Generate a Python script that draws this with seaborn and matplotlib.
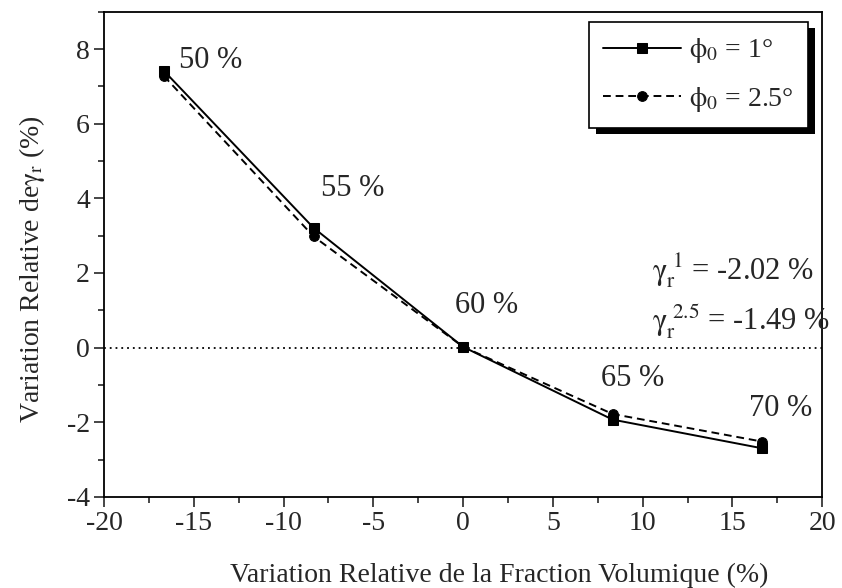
import numpy as np
import pandas as pd
import matplotlib
matplotlib.use("Agg")
import matplotlib.pyplot as plt
from matplotlib.patches import Rectangle
from matplotlib.ticker import MultipleLocator
import seaborn as sns

# Relative variation of the volume fraction (%) around the 60 % reference
frac_variation = [-16.67, -8.33, 0.0, 8.33, 16.67]
frac_labels = ["50 %", "55 %", "60 %", "65 %", "70 %"]
# Relative variation of gamma_r (%) for the two angles
gamma_phi1 = [7.42, 3.21, 0.02, -1.93, -2.70]
gamma_phi25 = [7.28, 2.98, 0.02, -1.78, -2.52]
series_names = [r"$\mathrm{\phi}_0$ = 1°", r"$\mathrm{\phi}_0$ = 2.5°"]
slope_texts = [r"$\mathrm{\gamma}_\mathrm{r}^{\ 1}$ = -2.02 %",
               r"$\mathrm{\gamma}_\mathrm{r}^{\ 2.5}$ = -1.49 %"]

sns.set_style("ticks")
plt.rcParams["font.family"] = ["Liberation Serif", "DejaVu Serif"]
plt.rcParams["mathtext.fontset"] = "stix"
plt.rcParams["axes.unicode_minus"] = False
plt.rcParams["axes.linewidth"] = 1.3

df = pd.DataFrame({
    "x": frac_variation * 2,
    "y": gamma_phi1 + gamma_phi25,
    "serie": [series_names[0]] * 5 + [series_names[1]] * 5,
})

fig = plt.figure(figsize=(8.42, 5.88), dpi=100)
ax = fig.add_axes([0.1235, 0.155, 0.853, 0.825])

ax.axhline(0, color="black", lw=1.3, ls=(0, (1, 2.2)), zorder=1)

sns.lineplot(data=df[df.serie == series_names[0]], x="x", y="y", ax=ax,
             color="black", lw=1.4, marker="s", markersize=7,
             markeredgecolor="black", label=series_names[0], zorder=3)
sns.lineplot(data=df[df.serie == series_names[1]], x="x", y="y", ax=ax,
             color="black", lw=1.4, linestyle=(0, (4, 2.5)), marker="o",
             markersize=7, markeredgecolor="black", label=series_names[1],
             zorder=3)

ax.set_xlim(-20, 20)
ax.set_ylim(-4, 9.0)
ax.xaxis.set_major_locator(MultipleLocator(5))
ax.xaxis.set_minor_locator(MultipleLocator(2.5))
ax.yaxis.set_major_locator(MultipleLocator(2))
ax.yaxis.set_minor_locator(MultipleLocator(1))
ax.tick_params(which="major", direction="out", length=7, width=1.2,
               labelsize=20, pad=3)
ax.tick_params(which="minor", direction="out", length=4, width=1.2)
for s in ax.spines.values():
    s.set_visible(True)
    s.set_color("black")

ax.set_xlabel("Variation Relative de la Fraction Volumique (%)", fontsize=20)
ax.set_ylabel(r"Variation Relative de$\mathrm{\gamma}_\mathrm{r}$ (%)",
              fontsize=20)
ax.xaxis.set_label_coords(0.55, -0.135)
ax.yaxis.set_label_coords(-0.08, 0.47)

# Volume fraction labels next to each point
label_pos = [(-15.8, 7.7), (-7.9, 4.26), (-0.45, 1.13), (7.7, -0.83), (15.9, -1.63)]
for txt, (lx, ly) in zip(frac_labels, label_pos):
    ax.text(lx, ly, txt, fontsize=22, va="center", ha="left")

ax.text(10.5, 2.05, slope_texts[0], fontsize=22, va="center", ha="left")
ax.text(10.5, 0.7, slope_texts[1], fontsize=22, va="center", ha="left")

leg = ax.legend(loc="upper right", bbox_to_anchor=(0.98, 0.978), fontsize=20,
                frameon=True, fancybox=False, edgecolor="black",
                framealpha=1, handlelength=2.8, handletextpad=0.3,
                labelspacing=0.7, borderpad=0.5, borderaxespad=0)
leg.get_frame().set_linewidth(1.2)
leg.set_zorder(6)

# Solid drop shadow under the legend box
fig.canvas.draw()
bb = leg.get_frame().get_window_extent()
shadow = Rectangle((bb.x0 + 7, bb.y0 - 6), bb.width, bb.height,
                   transform=None, facecolor="black", edgecolor="none",
                   zorder=5.5)
ax.add_artist(shadow)

fig.savefig("out.png", dpi=100)
